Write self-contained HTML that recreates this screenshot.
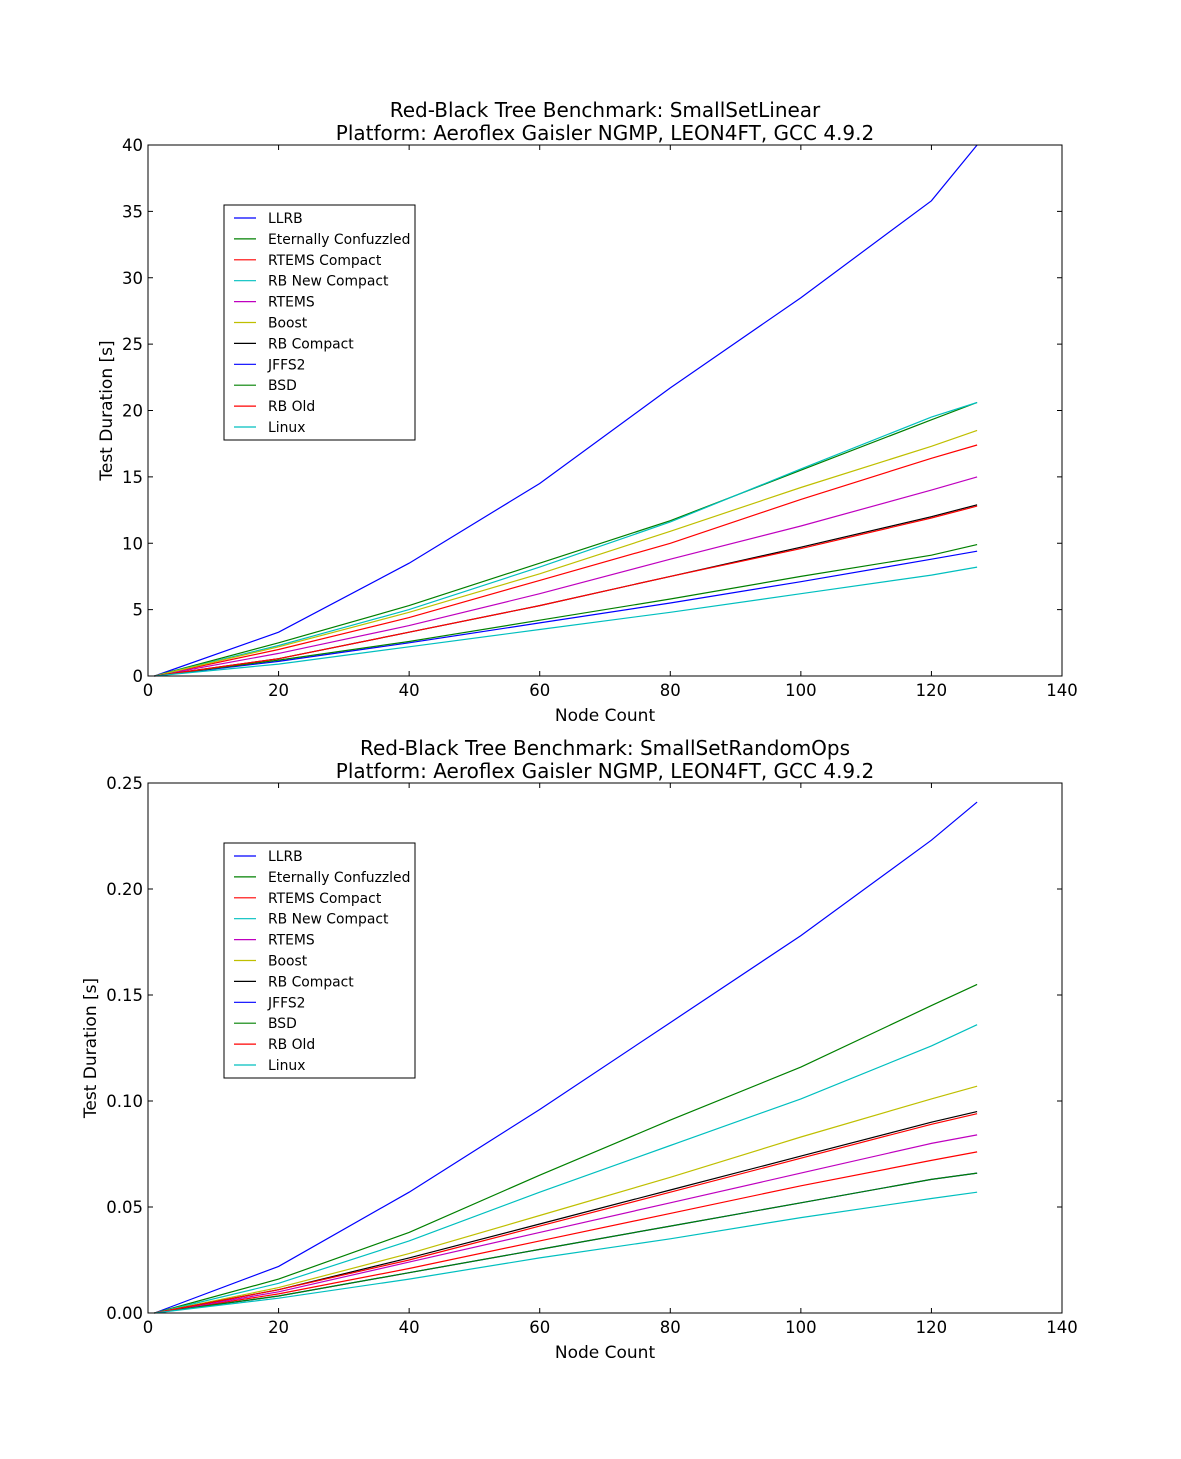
<!DOCTYPE html>
<html><head><meta charset="utf-8"><style>
body{margin:0;background:#fff;}
svg{display:block;font-family:"DejaVu Sans","Liberation Sans",sans-serif;}
</style></head><body>
<svg id="fig" width="1181" height="1459" viewBox="0 0 1181 1459"></svg>
<script>
const names = ["LLRB","Eternally Confuzzled","RTEMS Compact","RB New Compact","RTEMS","Boost","RB Compact","JFFS2","BSD","RB Old","Linux"];
const colors = ["#0000ff","#008000","#ff0000","#00bfbf","#bf00bf","#bfbf00","#000000","#0000ff","#008000","#ff0000","#00bfbf"];
const xNodes = [1,20,40,60,80,100,120,127];
const linLLRB   = [0,3.3,8.5,14.5,21.7,28.5,35.8,40];
const linEC     = [0,2.5,5.3,8.5,11.7,15.5,19.3,20.6];
const linRTEMSC = [0,2.0,4.4,7.2,10.0,13.3,16.4,17.4];
const linRBNC   = [0,2.3,5.0,8.2,11.6,15.6,19.5,20.6];
const linRTEMS  = [0,1.7,3.8,6.2,8.8,11.3,14.0,15.0];
const linBoost  = [0,2.2,4.8,7.7,10.9,14.2,17.3,18.5];
const linRBC    = [0,1.3,3.3,5.3,7.5,9.7,12.0,12.9];
const linJFFS2  = [0,1.1,2.5,4.0,5.5,7.1,8.8,9.4];
const linBSD    = [0,1.2,2.6,4.2,5.8,7.5,9.1,9.9];
const linRBOld  = [0,1.3,3.3,5.3,7.5,9.6,11.9,12.8];
const linLinux  = [0,0.9,2.2,3.5,4.8,6.2,7.6,8.2];
const rndLLRB   = [0,0.022,0.057,0.096,0.137,0.178,0.223,0.241];
const rndEC     = [0,0.016,0.038,0.065,0.091,0.116,0.145,0.155];
const rndRTEMSC = [0,0.009,0.021,0.034,0.047,0.060,0.072,0.076];
const rndRBNC   = [0,0.014,0.034,0.057,0.079,0.101,0.126,0.136];
const rndRTEMS  = [0,0.010,0.024,0.038,0.052,0.066,0.080,0.084];
const rndBoost  = [0,0.012,0.028,0.046,0.064,0.083,0.101,0.107];
const rndRBC    = [0,0.011,0.026,0.042,0.058,0.074,0.090,0.095];
const rndJFFS2  = [0,0.008,0.019,0.030,0.041,0.052,0.063,0.066];
const rndBSD    = [0,0.008,0.019,0.030,0.041,0.052,0.063,0.066];
const rndRBOld  = [0,0.011,0.025,0.041,0.057,0.073,0.089,0.094];
const rndLinux  = [0,0.007,0.016,0.026,0.035,0.045,0.054,0.057];
const xTicks = [0,20,40,60,80,100,120,140];
const linYTicks = [0,5,10,15,20,25,30,35,40];
const rndYTicks = [0,0.05,0.10,0.15,0.20,0.25];
const linSeries = [linLLRB,linEC,linRTEMSC,linRBNC,linRTEMS,linBoost,linRBC,linJFFS2,linBSD,linRBOld,linLinux];
const rndSeries = [rndLLRB,rndEC,rndRTEMSC,rndRBNC,rndRTEMS,rndBoost,rndRBC,rndJFFS2,rndBSD,rndRBOld,rndLinux];

const NS="http://www.w3.org/2000/svg";
const fig=document.getElementById('fig');
function mk(tag,attrs,parent,text){const e=document.createElementNS(NS,tag);for(const k in attrs)e.setAttribute(k,attrs[k]);if(text!==undefined)e.textContent=text;parent.appendChild(e);return e;}

function panel(key,top,bottom,ymax,yTicks,yFmt,series,title1,ylx){
  const L=148,R=1062;
  const g=mk('g',{},fig);
  
  
  const sx=v=>L+(v/140)*(R-L);
  const sy=v=>bottom-(v/ymax)*(bottom-top);
  const t=mk('text',{x:605,y:top-28,'text-anchor':'middle','font-size':20},g,title1);
  
  
  const t2=mk('text',{x:605,y:top-5,'text-anchor':'middle','font-size':20},g,"Platform: Aeroflex Gaisler NGMP, LEON4FT, GCC 4.9.2");
  
  
  series.forEach((s,i)=>{
    const d=s.map((v,j)=>(j?'L':'M')+sx(xNodes[j]).toFixed(1)+','+sy(v).toFixed(1)).join(' ');
    const p=mk('path',{d:d,fill:'none',stroke:colors[i],'stroke-width':1.2},g);
    
    
  });
  const fr=mk('rect',{x:L,y:top,width:R-L,height:bottom-top,fill:'none',stroke:'#000','stroke-width':1},g);
  
  
  xTicks.forEach(v=>{
    const x=sx(v);
    mk('line',{x1:x,y1:bottom,x2:x,y2:bottom-5,stroke:'#000'},g);
    mk('line',{x1:x,y1:top,x2:x,y2:top+5,stroke:'#000'},g);
    const tl=mk('text',{x:x,y:bottom+20,'text-anchor':'middle','font-size':16.5},g,String(v));
    
    
  });
  yTicks.forEach(v=>{
    const y=sy(v);
    mk('line',{x1:L,y1:y,x2:L+5,y2:y,stroke:'#000'},g);
    mk('line',{x1:R,y1:y,x2:R-5,y2:y,stroke:'#000'},g);
    const tl=mk('text',{x:L-5,y:y+6,'text-anchor':'end','font-size':16.5},g,yFmt(v));
    
    
  });
  const xl=mk('text',{x:605,y:bottom+45,'text-anchor':'middle','font-size':17},g,"Node Count");
  
  
  const yl=mk('text',{x:0,y:0,'text-anchor':'middle','font-size':17,transform:`translate(${ylx},${(top+bottom)/2}) rotate(-90)`},g,"Test Duration [s]");
  
  
  const lg=mk('g',{},g);
  
  
  const lt=top+60;
  mk('rect',{x:224,y:lt,width:191,height:235,fill:'#fff',stroke:'#000','stroke-width':1},lg);
  names.forEach((n,i)=>{
    const y=lt+13+i*20.9;
    const e=mk('g',{},lg);
    
    
    mk('line',{x1:234,y1:y,x2:256,y2:y,stroke:colors[i],'stroke-width':1.2},e);
    mk('text',{x:268,y:y+5,'font-size':13.9},e,n);
  });
}
panel('linear',145,676,40,linYTicks,v=>String(v),linSeries,"Red-Black Tree Benchmark: SmallSetLinear",112);
panel('randomops',783,1313,0.25,rndYTicks,v=>v.toFixed(2),rndSeries,"Red-Black Tree Benchmark: SmallSetRandomOps",96);
</script>
</body></html>
